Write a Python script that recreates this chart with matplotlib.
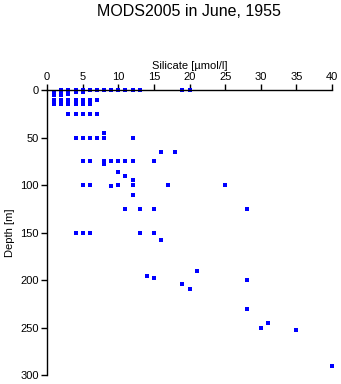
import matplotlib
matplotlib.use('Agg')
import matplotlib.pyplot as plt

plt.rcParams['font.family'] = ['Liberation Sans', 'DejaVu Sans']

# silicate [umol/l] and sample depth [m]
silicate = [2, 3, 4, 5, 6, 7, 8, 9, 10, 11, 12, 13, 19, 20,
            1, 1, 2, 2, 3, 3, 4, 5,
            1, 2, 3, 4, 5, 6, 7,
            1, 2, 3, 4, 5, 6,
            3, 4, 5, 6, 7,
            8, 4, 5, 6, 7, 8, 12,
            16, 18,
            5, 6, 8, 9, 10, 11, 12, 15, 8,
            10, 11, 12,
            5, 6, 9, 10, 12, 17, 25,
            12,
            11, 13, 15, 28,
            4, 5, 6, 13, 15, 16,
            21, 14, 15, 28, 19, 20,
            28, 31, 30, 35, 40]
depth = [0, 0, 0, 0, 0, 0, 0, 0, 0, 0, 0, 0, 0, 0,
         2, 5, 3, 5, 2, 4, 2, 2,
         10, 10, 10, 10, 10, 10, 10,
         15, 15, 15, 15, 15, 15,
         25, 25, 25, 25, 25,
         45, 50, 50, 50, 50, 50, 50,
         65, 65,
         75, 75, 75, 75, 75, 75, 75, 75, 78,
         86, 90, 95,
         100, 100, 101, 100, 100, 100, 100,
         110,
         125, 125, 125, 125,
         150, 150, 150, 150, 150, 158,
         190, 196, 198, 200, 204, 209,
         230, 245, 250, 253, 290]

fig = plt.figure(figsize=(3.41, 3.84), dpi=100)
ax = fig.add_axes([0.138, 0.0234, 0.836, 0.7422])

ax.plot(silicate, depth, 's', color='#0000ff', markersize=2.5,
        markeredgewidth=0, clip_on=False)

ax.set_xlim(0, 40)
ax.set_ylim(300, 0)
ax.set_xticks(range(0, 41, 5))
ax.set_yticks(range(0, 301, 50))

ax.xaxis.tick_top()
ax.xaxis.set_label_position('top')
ax.spines['right'].set_visible(False)
ax.spines['bottom'].set_visible(False)
for s in ('left', 'top'):
    ax.spines[s].set_linewidth(1.0)
ax.tick_params(direction='out', length=4, width=1.0, labelsize=8, pad=2)

ax.set_xlabel('Silicate [µmol/l]', fontsize=8, labelpad=2)
ax.set_ylabel('Depth [m]', fontsize=8, labelpad=4)
fig.suptitle('MODS2005 in June, 1955', x=0.555, y=0.99, fontsize=11.5)

fig.savefig('out.png', dpi=100)
